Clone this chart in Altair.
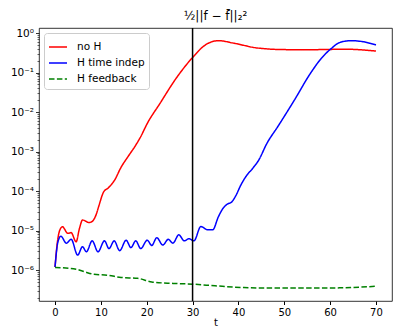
import altair as alt
import pandas as pd

# ---- data ----
red_t = [0, 0.5, 1.0, 1.6, 2.8, 3.5, 4.6, 5.3, 6.0, 7.4, 8.1, 9.0, 9.5, 10.6, 11.6, 13.0,
         14.4, 15.9, 17.6, 18.7, 20.1, 22.9, 26.4, 30.0, 32.8, 35.6, 39.1, 44.0, 50.4,
         57.4, 63.0, 70.0]
red_v = [1.2e-6, 5e-6, 1.0e-5, 1.25e-5, 8.5e-6, 8.9e-6, 5.2e-6, 1.1e-5, 1.85e-5, 1.6e-5,
         1.7e-5, 2.6e-5, 4.0e-5, 9.5e-5, 1.2e-4, 1.9e-4, 4.0e-4, 7.4e-4, 1.45e-3, 2.4e-3,
         5.1e-3, 1.66e-2, 7.1e-2, 0.24, 0.50, 0.64, 0.55, 0.42, 0.38, 0.38, 0.39, 0.35]

blue_t = [0, 0.6, 1.27, 2.47, 3.52, 4.93, 5.99, 6.83, 8.1, 9.37, 10.78, 11.77, 12.9, 14.1,
          15.5, 16.56, 17.6, 18.7, 20.1, 21.1, 22.2, 23.5, 24.7, 25.7, 27.0, 28.2, 29.2,
          30.3, 31.8, 33.3, 34.4, 35.6, 36.6, 37.5, 38.6, 39.5, 40.5, 41.6, 43.3, 44.4,
          46.2, 48.6, 52.2, 55.7, 58.1, 60.3, 62.0, 64.5, 67.3, 70.0]
blue_v = [1.2e-6, 5e-6, 7.2e-6, 4.8e-6, 6.0e-6, 2.4e-6, 3.9e-6, 2.9e-6, 5.5e-6, 2.9e-6,
          5.5e-6, 3.5e-6, 5.5e-6, 3.1e-6, 5.7e-6, 3.7e-6, 5.5e-6, 3.5e-6, 5.7e-6, 4.2e-6,
          6.6e-6, 4.3e-6, 6.0e-6, 4.8e-6, 7.8e-6, 5.5e-6, 6.2e-6, 5.5e-6, 1.26e-5, 1.05e-5,
          1.05e-5, 2.2e-5, 3.6e-5, 4.6e-5, 5.4e-5, 7.9e-5, 1.4e-4, 2.3e-4, 4.0e-4, 6.0e-4,
          1.6e-3, 4.3e-3, 2.0e-2, 9.5e-2, 0.23, 0.41, 0.57, 0.64, 0.60, 0.50]

green_t = [0, 4.6, 6.5, 8.5, 11.6, 14.4, 18.0, 21.1, 25.7, 30.1, 34.9, 41.2, 48.3, 55.3,
           62.4, 70.0]
green_v = [1.17e-6, 1.05e-6, 9e-7, 7.8e-7, 7.4e-7, 6.5e-7, 6.2e-7, 5.0e-7, 4.6e-7, 4.4e-7,
           4.0e-7, 3.6e-7, 3.5e-7, 3.5e-7, 3.55e-7, 3.9e-7]

series = ["no H", "H time indep", "H feedback"]
colors = ["#ff0000", "#0000ff", "#008000"]
vline_t = [30]
x_ticks = [0, 10, 20, 30, 40, 50, 60, 70]
y_ticks = [m * 10.0 ** e for e in range(-7, 1) for m in range(1, 10) if m * 10.0 ** e <= 1.0]
y_ticks = [v for v in y_ticks if v >= 1.7e-7]

rows = []
for name, ts, vs in zip(series, [red_t, blue_t, green_t], [red_v, blue_v, green_v]):
    for t, v in zip(ts, vs):
        rows.append({"t": t, "v": v, "series": name})
df = pd.DataFrame(rows)

font = "DejaVu Sans"
major_test = "abs(log(datum.value)/LN10 - round(log(datum.value)/LN10)) < 0.001"
label_expr = (
    f"{major_test} ? '10' + (round(log(datum.value)/LN10) < 0 ? '⁻' : '') + "
    "['⁰','¹','²','³','⁴','⁵','⁶','⁷','⁸','⁹'][abs(round(log(datum.value)/LN10))] : ''"
)

x_scale = alt.Scale(domain=[-3.5, 73.5], nice=False, zero=False)
y_scale = alt.Scale(type="log", domain=[1.65e-7, 1.34], nice=False)

lines = alt.Chart(df).mark_line(strokeWidth=1.5, interpolate="monotone").encode(
    x=alt.X("t:Q", scale=x_scale,
            axis=alt.Axis(values=x_ticks, title="t", grid=False, tickSize=3.5,
                          labelFontSize=10, titleFontSize=10, titleFontWeight="normal",
                          labelPadding=3, titlePadding=0, labelFont=font, titleFont=font,
                          domain=False, tickColor="#000", labelColor="#000", titleColor="#000")),
    y=alt.Y("v:Q", scale=y_scale,
            axis=alt.Axis(values=y_ticks, title=None, grid=False,
                          tickSize={"condition": {"test": major_test, "value": 3.5}, "value": 2},
                          tickWidth={"condition": {"test": major_test, "value": 0.8}, "value": 0.6},
                          labelExpr=label_expr, labelFontSize=10.5, labelFont=font,
                          labelPadding=2, domain=False, tickColor="#000", labelColor="#000")),
    color=alt.Color("series:N", scale=alt.Scale(domain=series, range=colors),
                    legend=alt.Legend(title=None, orient="none", legendX=5, legendY=5,
                                      symbolType="stroke", symbolSize=324, symbolStrokeWidth=1.5,
                                      labelFontSize=10.5, labelFont=font, labelColor="#000",
                                      padding=4, rowPadding=-2, labelOffset=9,
                                      strokeColor="#cccccc", fillColor="rgba(255,255,255,0.8)",
                                      cornerRadius=3)),
    strokeDash=alt.StrokeDash("series:N",
                              scale=alt.Scale(domain=series, range=[[1, 0], [1, 0], [5.5, 2.4]]),
                              legend=alt.Legend(title=None)),
    order=alt.Order("t:Q"),
)

vline = alt.Chart(pd.DataFrame({"t": vline_t})).mark_rule(color="#000", strokeWidth=1.5).encode(
    x=alt.X("t:Q", scale=x_scale)
)

chart = alt.layer(lines, vline).properties(
    width=353, height=273,
    title=alt.TitleParams("½||f − f̄||₂²", fontSize=12, fontWeight="normal", font=font,
                          color="#000", offset=4),
    padding={"left": 31, "top": 20, "right": 1, "bottom": 29},
    autosize=alt.AutoSizeParams(type="none"),
).configure_view(stroke="#000", strokeWidth=0.8)

chart.save("out.html", embed_options={"renderer": "svg", "actions": False})
